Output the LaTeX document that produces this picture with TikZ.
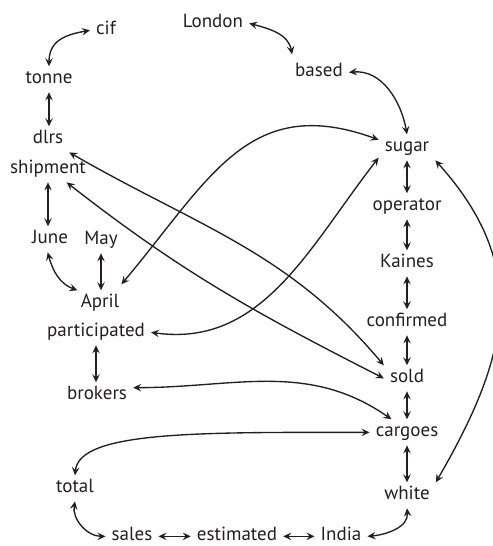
\documentclass[tikz,border=0pt]{standalone}
\usepackage{fontspec}
\setmainfont{PT Sans}
\usetikzlibrary{arrows.meta}
\definecolor{ink}{RGB}{35,31,32}
\begin{document}
\begin{tikzpicture}[x=1bp,y=1bp,
  w/.style={font=\fontsize{19bp}{23bp}\selectfont, text=ink, text height=13.5bp, text depth=4.2bp, inner xsep=6bp, inner ysep=4bp, anchor=base},
  link/.style={draw=ink, line width=1.35bp, {Stealth[length=8bp,width=7.5bp,inset=3bp]}-{Stealth[length=8bp,width=7.5bp,inset=3bp]}},
]
\useasboundingbox (0,0) rectangle (493,546);
% left / top words
\node[w] (cif) at (106,511) {cif};
\node[w] (London) at (213,518) {London};
\node[w] (tonne) at (49,462) {tonne};
\node[w] (based) at (319,469) {based};
\node[w] (dlrs) at (48,402) {dlrs};
\node[w] (shipment) at (48,372) {shipment};
\node[w] (June) at (50,302) {June};
\node[w] (May) at (101,301) {May};
\node[w] (April) at (100,238) {April};
\node[w] (participated) at (96,209) {participated};
\node[w] (brokers) at (97,146) {brokers};
\node[w] (total) at (75,53) {total};
\node[w] (sales) at (132,5) {sales};
\node[w] (estimated) at (237,5) {estimated};
\node[w] (India) at (341,5) {India};
% right column
\node[w] (sugar) at (407,394) {sugar};
\node[w] (operator) at (407,335) {operator};
\node[w] (Kaines) at (407,278) {Kaines};
\node[w] (confirmed) at (407,219) {confirmed};
\node[w] (sold) at (407,163) {sold};
\node[w] (cargoes) at (407,109) {cargoes};
\node[w] (white) at (407,46) {white};
% connectors
\draw[link] (cif.west) to[out=190,in=90,looseness=1.2] (tonne.north);
\draw[link] (tonne.south) -- (tonne.south |- dlrs.north);
\draw[link] (London.east) to[out=-15,in=100] ([shift={(3,5)}]based.north west);
\draw[link] (based.east) to[out=5,in=100] (sugar.north);
\draw[link] (sugar.south) -- (operator.north);
\draw[link] (operator.south) -- (Kaines.north);
\draw[link] (Kaines.south) -- (confirmed.north);
\draw[link] (confirmed.south) -- (sold.north);
\draw[link] (sold.south) -- (cargoes.north);
\draw[link] (cargoes.south) -- (white.north);
\draw[link] (sugar.south east) to[out=-48,in=60,looseness=1.15] (white.north east);
\draw[link] (dlrs.south east) to[out=-30,in=130] (sold.north west);
\draw[link] (shipment.-35) to[out=-38,in=153] (sold.west);
\draw[link] (shipment.south) -- (shipment.south |- June.north);
\draw[link] (June.-100) to[out=-75,in=160] (April.150);
\draw[link] (May.south) -- (May.south |- April.north);
\draw[link] ([shift={(-4,6)}]April.north east) to[out=50,in=160,looseness=1.2] (sugar.165);
\draw[link] (participated.east) to[out=-8,in=232] (sugar.200);
\draw[link] (participated.south) -- (participated.south |- brokers.north);
\draw[link] (brokers.12) to[out=0,in=145] (cargoes.140);
\draw[link] (total.north) to[out=85,in=180,out distance=45,in distance=170] (cargoes.west);
\draw[link] (total.south) to[out=-100,in=180] (sales.west);
\draw[link] (sales.east) -- (estimated.west);
\draw[link] (estimated.east) -- (India.west);
\draw[link] (India.east) to[out=5,in=-85] (white.south);
\end{tikzpicture}
\end{document}
